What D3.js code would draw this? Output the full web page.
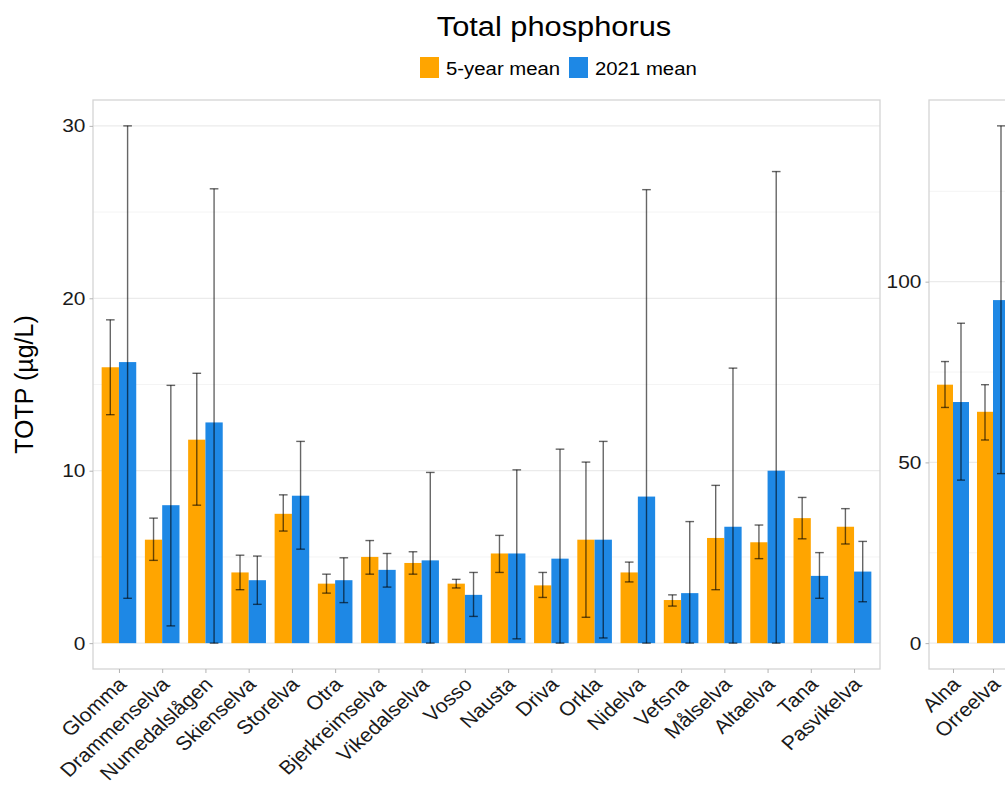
<!DOCTYPE html>
<html><head><meta charset="utf-8">
<script src="https://cdn.jsdelivr.net/npm/d3@7"></script>
<style>
body{margin:0;background:#fff;}
svg text{font-family:"Liberation Sans",Arial,sans-serif;}
</style></head>
<body>
<svg id="chart" width="1005" height="785"></svg>
<script>
// ---- data ----
const categoriesLeft = ["Glomma","Drammenselva","Numedalslågen","Skienselva","Storelva","Otra","Bjerkreimselva","Vikedalselva","Vosso","Nausta","Driva","Orkla","Nidelva","Vefsna","Målselva","Altaelva","Tana","Pasvikelva"];
const mean5Left   = [16.0, 6.0, 11.8, 4.1, 7.5, 3.45, 5.0, 4.65, 3.45, 5.2, 3.35, 6.0, 4.1, 2.5, 6.1, 5.85, 7.25, 6.75];
const low5Left    = [13.25, 4.8, 8.0, 3.1, 6.5, 2.9, 4.0, 4.0, 3.2, 4.1, 2.65, 1.5, 3.55, 2.15, 3.1, 4.9, 6.05, 5.75];
const high5Left   = [18.75, 7.25, 15.65, 5.1, 8.6, 4.0, 5.95, 5.3, 3.7, 6.25, 4.1, 10.5, 4.7, 2.8, 9.15, 6.85, 8.45, 7.8];
const mean2021Left = [16.3, 8.0, 12.8, 3.65, 8.55, 3.65, 4.25, 4.8, 2.8, 5.2, 4.9, 6.0, 8.5, 2.9, 6.75, 10.0, 3.9, 4.15];
const low2021Left  = [2.6, 1.0, 0, 2.25, 5.45, 2.35, 3.25, 0, 1.55, 0.25, 0, 0.3, 0, 0, 0, 0, 2.6, 2.4];
const high2021Left = [30.0, 14.95, 26.35, 5.05, 11.7, 4.95, 5.2, 9.9, 4.1, 10.05, 11.25, 11.7, 26.3, 7.05, 15.95, 27.35, 5.25, 5.9];

const categoriesRight = ["Alna","Orreelva"];
const mean5Right    = [71.5, 64.0];
const low5Right     = [65.2, 56.2];
const high5Right    = [77.9, 71.5];
const mean2021Right = [66.7, 94.9];
const low2021Right  = [45.1, 46.9];
const high2021Right = [88.5, 143.1];

const ticksLeft = [0, 10, 20, 30];
const minorLeft = [5, 15, 25];
const ticksRight = [0, 50, 100];
const minorRight = [25, 75, 125];

const seriesNames = ["5-year mean", "2021 mean"];
const seriesColors = ["#FFA500", "#1E88E5"];
const titleText = "Total phosphorus";
const yTitle = "TOTP (µg/L)";

// ---- drawing ----
const svg = d3.select("#chart");
const panelTop = 100, panelBottom = 669;
const sx = 1.1; // horizontal text stretch

function panel(cats, m5, l5, h5, m21, l21, h21, ticks, minor, x0, x1) {
  const g = svg.append("g");
  const maxV = d3.max(h5.concat(h21));
  const ex = maxV * 0.05;
  const y = d3.scaleLinear().domain([-ex, maxV + ex]).range([panelBottom, panelTop]);
  const x = d3.scalePoint().domain(cats).range([x0, x1]).padding(0.6);
  const step = x.step();

  g.selectAll(".minor").data(minor).join("line")
    .attr("x1", x0).attr("x2", x1).attr("y1", d => y(d)).attr("y2", d => y(d))
    .attr("stroke", "#f4f4f4").attr("stroke-width", 1);
  g.selectAll(".major").data(ticks).join("line")
    .attr("x1", x0).attr("x2", x1).attr("y1", d => y(d)).attr("y2", d => y(d))
    .attr("stroke", "#ebebeb").attr("stroke-width", 1.2);

  const rows = cats.map((c, i) => ({c, i}));
  const bw = step * 0.4;
  g.selectAll(".b5").data(rows).join("rect")
    .attr("x", d => x(d.c) - bw).attr("width", bw)
    .attr("y", d => y(m5[d.i])).attr("height", d => y(0) - y(m5[d.i]))
    .attr("fill", seriesColors[0]);
  g.selectAll(".b21").data(rows).join("rect")
    .attr("x", d => x(d.c)).attr("width", bw)
    .attr("y", d => y(m21[d.i])).attr("height", d => y(0) - y(m21[d.i]))
    .attr("fill", seriesColors[1]);

  const cap = step * 0.2 / 2;
  function err(off, lo, hi) {
    const eg = g.append("g").selectAll("g").data(rows).join("g")
      .attr("stroke", "#000").attr("stroke-opacity", 0.6).attr("stroke-width", 1.4);
    eg.append("line").attr("x1", d => x(d.c) + off).attr("x2", d => x(d.c) + off)
      .attr("y1", d => y(lo[d.i])).attr("y2", d => y(hi[d.i]));
    eg.append("line").attr("x1", d => x(d.c) + off - cap).attr("x2", d => x(d.c) + off + cap)
      .attr("y1", d => y(lo[d.i])).attr("y2", d => y(lo[d.i]));
    eg.append("line").attr("x1", d => x(d.c) + off - cap).attr("x2", d => x(d.c) + off + cap)
      .attr("y1", d => y(hi[d.i])).attr("y2", d => y(hi[d.i]));
  }
  err(-bw / 2, l5, h5);
  err(bw / 2, l21, h21);

  g.append("rect").attr("x", x0).attr("y", panelTop).attr("width", x1 - x0).attr("height", panelBottom - panelTop)
    .attr("fill", "none").attr("stroke", "#d4d4d4").attr("stroke-width", 1.3);

  const ya = g.append("g").attr("transform", `translate(${x0},0)`)
    .call(d3.axisLeft(y).tickValues(ticks).tickSize(3.5).tickPadding(4).tickFormat(d3.format("d")));
  ya.select(".domain").remove();
  ya.selectAll("line").attr("stroke", "#b3b3b3");
  ya.selectAll("text").attr("font-size", 19).attr("fill", "#1a1a1a")
    .attr("font-family", "Liberation Sans, Arial, sans-serif")
    .attr("x", 0).attr("transform", `translate(-7.5,0) scale(${sx},1)`);

  const xa = g.append("g").attr("transform", `translate(0,${panelBottom})`)
    .call(d3.axisBottom(x).tickSize(4).tickPadding(0));
  xa.select(".domain").remove();
  xa.selectAll("line").attr("stroke", "#b3b3b3");
  xa.selectAll("text")
    .attr("font-size", 19.5).attr("fill", "#1a1a1a")
    .attr("font-family", "Liberation Sans, Arial, sans-serif")
    .attr("text-anchor", "end")
    .attr("x", 0).attr("y", 0).attr("dy", "0.7em")
    .attr("transform", `translate(-2.5,7) scale(${sx},1) rotate(-45)`);
}

panel(categoriesLeft, mean5Left, low5Left, high5Left, mean2021Left, low2021Left, high2021Left,
      ticksLeft, minorLeft, 93, 880);
panel(categoriesRight, mean5Right, low5Right, high5Right, mean2021Right, low2021Right, high2021Right,
      ticksRight, minorRight, 929, 929 + 2.2 * 40);

svg.append("text").attr("transform", `translate(554,36) scale(${sx},1)`).attr("text-anchor", "middle")
  .attr("font-size", 28).attr("fill", "#000").text(titleText);

const legend = svg.append("g");
const lx = [420, 569];
seriesNames.forEach((s, i) => {
  legend.append("rect").attr("x", lx[i]).attr("y", 57).attr("width", 19).attr("height", 21)
    .attr("fill", seriesColors[i]);
  legend.append("text").attr("transform", `translate(${lx[i] + 26},74.5) scale(${sx},1)`).attr("font-size", 18.5)
    .attr("fill", "#000").text(s);
});

svg.append("text").attr("transform", `translate(33,${(panelTop + panelBottom) / 2}) rotate(-90)`)
  .attr("text-anchor", "middle").attr("font-size", 25).attr("fill", "#000").text(yTitle);
</script>
</body></html>
